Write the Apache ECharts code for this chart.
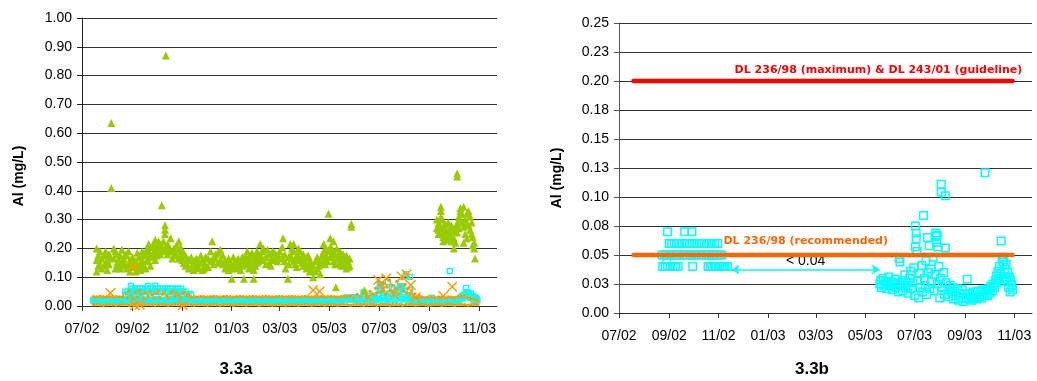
<!DOCTYPE html>
<html>
<head>
<meta charset="UTF-8">
<title>Al 3.3a / 3.3b</title>
<script src="https://cdn.jsdelivr.net/npm/echarts@6/dist/echarts.min.js"></script>
</head>
<body style="margin:0;background:#fff">
<div id="main" style="width:1037px;height:381px"></div>
<script>
// x values are days counted from 1 July 2002
var START = Date.UTC(2002, 6, 1);
var DAY = 86400000;

var tickMonths = ['2002-07', '2002-09', '2002-11', '2003-01', '2003-03', '2003-05', '2003-07', '2003-09', '2003-11'];
var yLabelsB = ['0.00', '0.03', '0.05', '0.08', '0.10', '0.13', '0.15', '0.18', '0.20', '0.23', '0.25'];

// green triangles (3.3a)
var greenAl = [
  [18,.20],[18,.16],[18,.12],[20,.175],[20,.14],[22,.19],[22,.15],[24,.165],[24,.13],[27,.175],[27,.14],
  [29,.19],[29,.15],[31,.16],[31,.125],[33,.145],[33,.18],[35,.17],[36,.635],[36,.41],[39,.20],[39,.165],
  [41,.13],[41,.19],[43,.18],[43,.15],[45,.16],[45,.14],[47,.175],[47,.13],[49,.195],[49,.145],[51,.165],
  [51,.15],[53,.14],[53,.18],[55,.175],[55,.13],[57,.19],[57,.145],[59,.16],[59,.12],[62,.17],[62,.135],
  [64,.15],[66,.155],[66,.12],[68,.185],[68,.145],[70,.17],[70,.135],[72,.15],[72,.125],[74,.19],[74,.16],
  [76,.18],[76,.14],[78,.175],[78,.13],[80,.16],[80,.20],[82,.215],[82,.19],[82,.155],[84,.18],[84,.14],
  [86,.205],[86,.17],[88,.215],[88,.185],[90,.23],[90,.195],[90,.16],[92,.21],[92,.175],[94,.225],[94,.195],
  [96,.215],[96,.18],[98,.35],[98,.205],[98,.19],[100,.225],[100,.195],[102,.28],[102,.265],[102,.25],[102,.20],
  [103,.87],[105,.215],[105,.18],[107,.205],[107,.19],[109,.235],[111,.19],[111,.165],[113,.20],[113,.175],
  [116,.21],[116,.18],[119,.225],[119,.195],[119,.165],[121,.205],[121,.17],[123,.19],[123,.16],[125,.185],
  [125,.15],[127,.175],[127,.14],[129,.165],[129,.145],[131,.16],[131,.13],[134,.17],[134,.135],[137,.155],
  [137,.125],[139,.145],[139,.16],[141,.165],[141,.135],[144,.15],[144,.13],[146,.175],[148,.16],[148,.125],
  [150,.15],[150,.13],[152,.17],[152,.14],[155,.165],[155,.135],[158,.19],[158,.155],[160,.225],[162,.17],
  [162,.145],[164,.18],[164,.165],[167,.185],[167,.15],[170,.195],[170,.16],[173,.175],[173,.145],[176,.16],
  [176,.13],[178,.15],[178,.135],[180,.165],[180,.125],[182,.155],[182,.13],[184,.095],[184,.14],[186,.17],
  [186,.145],[189,.155],[189,.13],[192,.165],[192,.14],[195,.15],[195,.125],[197,.14],[197,.17],[199,.16],
  [199,.095],[201,.175],[201,.145],[203,.19],[203,.155],[205,.165],[205,.13],[207,.175],[207,.14],[209,.185],
  [209,.15],[211,.16],[211,.125],[211,.095],[213,.17],[213,.14],[215,.19],[215,.15],[217,.18],[217,.155],
  [219,.215],[219,.175],[221,.19],[221,.165],[223,.20],[223,.16],[226,.17],[226,.145],[228,.195],[230,.18],
  [230,.15],[232,.16],[232,.14],[234,.19],[234,.165],[237,.185],[237,.16],[240,.175],[240,.155],[243,.19],
  [243,.165],[246,.205],[246,.17],[247,.235],[249,.18],[249,.155],[250,.13],[253,.095],[254,.17],[254,.145],
  [256,.215],[256,.175],[258,.20],[258,.165],[260,.215],[260,.19],[260,.155],[262,.165],[262,.145],[264,.175],
  [264,.135],[266,.20],[266,.175],[268,.19],[268,.16],[270,.165],[270,.15],[272,.18],[272,.14],[274,.155],
  [274,.14],[276,.17],[276,.13],[278,.175],[278,.14],[280,.155],[280,.12],[282,.15],[282,.125],[284,.14],
  [284,.10],[287,.155],[287,.12],[289,.17],[289,.13],[291,.16],[291,.14],[293,.15],[293,.11],[295,.175],
  [295,.15],[297,.215],[297,.19],[297,.16],[299,.18],[299,.145],[300,.20],[300,.17],[302,.19],[302,.155],
  [303,.32],[305,.235],[305,.205],[305,.17],[307,.20],[307,.18],[309,.225],[309,.19],[309,.155],[311,.18],
  [311,.145],[312,.065],[313,.20],[313,.165],[315,.175],[315,.145],[317,.19],[317,.155],[319,.17],[319,.14],
  [321,.18],[321,.15],[323,.165],[323,.145],[325,.175],[325,.13],[327,.155],[327,.135],[329,.165],[329,.14],
  [331,.285],[331,.275],[347,.055],
  [436,.27],[436,.30],[438,.287],[438,.265],[438,.25],[440,.25],[440,.28],[441,.345],[441,.33],[441,.31],
  [443,.30],[443,.26],[444,.275],[444,.24],[444,.225],[446,.25],[446,.285],[448,.26],[448,.23],[450,.24],
  [450,.29],[452,.27],[452,.25],[454,.28],[454,.225],[455,.26],[457,.235],[457,.20],[459,.27],[459,.22],
  [461,.46],[461,.45],[461,.287],[461,.255],[463,.31],[463,.27],[465,.34],[465,.33],[465,.30],[467,.32],
  [467,.29],[469,.345],[469,.275],[469,.22],[471,.30],[471,.25],[473,.32],[473,.285],[473,.235],[475,.33],
  [475,.28],[477,.31],[477,.265],[479,.29],[479,.25],[480,.24],[480,.21],[482,.22],[482,.20],[483,.165]
];

// orange crosses (3.3a)
var orangeX = [
  [35,.045],[63,.135],[65,.003],[71,.004],[124,.003],[284,.055],[292,.05],[352,.03],[364,.09],[370,.06],
  [374,.096],[383,.04],[393,.102],[399,.11],[404,.073],[410,.03],[444,.035],[455,.067]
];

// orange dots (3.3a)
var orangeDots = [
  [14,.032],[18,.031],[22,.033],[26,.032],[30,.031],[34,.032],[38,.033],[42,.032],[46,.031],[50,.032],
  [54,.045],[56,.028],[58,.052],[61,.036],[63,.024],[66,.048],[68,.031],[71,.055],[73,.040],[76,.027],
  [78,.046],[81,.034],[84,.050],[86,.038],[89,.026],[91,.044],[94,.053],[96,.030],[99,.041],[101,.048],
  [104,.035],[106,.025],[109,.043],[111,.051],[114,.033],[116,.046],[119,.038],[121,.028],[124,.044],[126,.049],
  [129,.034],[131,.040],[134,.030],
  [138,.032],[142,.031],[146,.033],[150,.032],[154,.031],[158,.032],[162,.033],[166,.032],[170,.031],[174,.032],
  [178,.033],[182,.032],[186,.031],[190,.032],[194,.033],[198,.032],[202,.031],[206,.032],[210,.033],[214,.032],
  [218,.031],[222,.032],[226,.033],[230,.032],[234,.031],[238,.032],[242,.033],[246,.032],[250,.031],[254,.032],
  [258,.033],[262,.032],[266,.031],[270,.032],[274,.033],[278,.032],[282,.031],[286,.032],[290,.033],[294,.032],
  [298,.031],[302,.032],[306,.033],[310,.032],[314,.031],[318,.032],[322,.033],[326,.032],
  [330,.035],[334,.028],[338,.040],[342,.031],[346,.045],[350,.033],[354,.050],[358,.038],[361,.062],[363,.045],
  [365,.085],[367,.070],[369,.052],[371,.078],[373,.040],[375,.066],[377,.090],[379,.055],[381,.072],[383,.048],
  [385,.060],[387,.085],[389,.042],[391,.068],[393,.095],[395,.052],[397,.075],[399,.045],[401,.062],[403,.038],
  [405,.055],[407,.030],[409,.042],[412,.028],[415,.035],
  [418,.030],[422,.029],[426,.031],[430,.030],[434,.029],[438,.031],[442,.030],[446,.029],[450,.031],[454,.030],
  [458,.029],[462,.031],[466,.034],[470,.036],[474,.030],[478,.026],[482,.022],[486,.020],
  [14,.004],[18,.005],[22,.004],[26,.003],[30,.004],[34,.005],[38,.004],[42,.003],[46,.004],[50,.005],
  [54,.004],[58,.003],[62,.004],[66,.005],[70,.004],[74,.003],[78,.004],[82,.005],[86,.004],[90,.003],
  [94,.004],[98,.005],[102,.004],[106,.003],[110,.004],[114,.005],[118,.004],[122,.003],[126,.004],[130,.005],
  [134,.004],[138,.003],[142,.004],[146,.005],[150,.004],[154,.003],[158,.004],[162,.005],[166,.004],[170,.003],
  [174,.004],[178,.005],[182,.004],[186,.003],[190,.004],[194,.005],[198,.004],[202,.003],[206,.004],[210,.005],
  [214,.004],[218,.003],[222,.004],[226,.005],[230,.004],[234,.003],[238,.004],[242,.005],[246,.004],[250,.003],
  [254,.004],[258,.005],[262,.004],[266,.003],[270,.004],[274,.005],[278,.004],[282,.003],[286,.004],[290,.005],
  [294,.004],[298,.003],[302,.004],[306,.005],[310,.004],[314,.003],[318,.004],[322,.005],[326,.004],[330,.003],
  [334,.004],[338,.005],[342,.004],[346,.003],[350,.004],[354,.005],[358,.004],[362,.003],[366,.004],[370,.005],
  [374,.004],[378,.003],[382,.004],[386,.005],[390,.004],[394,.003],[398,.004],[402,.005],[406,.004],[410,.003],
  [414,.004],[418,.005],[422,.004],[426,.003],[430,.004],[434,.005],[438,.004],[442,.003],[446,.004],[450,.005],
  [454,.004],[458,.003],[462,.004],[466,.005],[470,.004],[474,.003],[478,.004],[482,.005],[486,.004]
];

// cyan readings below detection limit (3.3a only)
var cyanLow = [
  [14,.02],[18,.02],[22,.019],[26,.02],[30,.021],[34,.02],[38,.02],[42,.019],[46,.02],[50,.021],
  [54,.02],[58,.02],[62,.019],[66,.02],[70,.021],[74,.02],[78,.02],[82,.019],[86,.02],[90,.021],
  [94,.02],[98,.02],[102,.019],[106,.02],[110,.021],[114,.02],[118,.02],[122,.019],[126,.02],[130,.021],
  [134,.02],[138,.02],[142,.019],[146,.02],[150,.021],[154,.02],[158,.02],[162,.019],[166,.02],[170,.021],
  [174,.02],[178,.02],[182,.019],[186,.02],[190,.021],[194,.02],[198,.02],[202,.019],[206,.02],[210,.021],
  [214,.02],[218,.02],[222,.019],[226,.02],[230,.021],[234,.02],[238,.02],[242,.019],[246,.02],[250,.021],
  [254,.02],[258,.02],[262,.019],[266,.02],[270,.021],[274,.02],[278,.02],[282,.019],[286,.02],[290,.021],
  [294,.02],[298,.02],[302,.019],[306,.02],[310,.021],[314,.02],[318,.02]
];

// cyan readings above detection limit (both charts)
var cyan2002 = [
  [53,.05],[54,.04],[56,.05],[57,.04],[59,.05],[59,.046],[60,.04],[60,.07],[62,.06],[62,.05],
  [63,.04],[65,.05],[65,.06],[67,.04],[68,.05],[68,.06],[70,.04],[71,.05],[71,.06],[73,.04],
  [74,.05],[74,.06],[78,.05],[78,.06],[81,.07],[81,.05],[81,.06],[84,.05],[84,.06],[87,.05],
  [87,.06],[90,.05],[90,.06],[90,.07],[91,.04],[93,.05],[93,.06],[96,.05],[96,.06],[99,.05],
  [99,.06],[102,.05],[102,.06],[105,.05],[105,.06],[108,.05],[108,.06],[110,.04],[111,.05],[111,.06],
  [113,.04],[115,.05],[115,.06],[115,.04],[118,.05],[118,.04],[118,.06],[120,.04],[121,.05],[122,.06],
  [124,.04],[124,.05],[127,.05],[127,.04],[129,.04],[131,.04],[134,.04]
];
var cyan2003 = [
  [322,.025],[323,.028],[324,.022],[326,.030],[327,.024],[329,.027],[330,.021],[332,.026],[333,.031],[335,.023],
  [336,.027],[338,.020],[339,.025],[341,.029],[342,.022],[344,.026],[345,.018],[346,.047],[347,.044],[348,.024],
  [350,.019],[351,.028],[353,.033],[354,.022],[356,.026],[357,.017],[359,.030],[360,.036],[361,.021],[363,.026],
  [364,.039],[365,.015],[366,.075],[366,.057],[367,.069],[367,.064],[368,.053],[369,.028],[370,.013],[371,.034],
  [372,.022],[374,.041],[375,.018],[376,.084],[377,.030],[378,.024],[379,.045],[380,.016],[381,.065],[382,.035],
  [383,.058],[384,.021],[385,.038],[386,.027],[388,.048],[389,.019],[390,.033],[391,.069],[392,.066],[392,.061],
  [393,.067],[393,.025],[394,.057],[395,.040],[396,.013],[397,.030],[398,.111],[398,.104],[399,.022],[401,.035],
  [402,.016],[403,.101],[403,.056],[404,.026],[406,.020],[407,.014],[409,.024],[410,.018],[412,.022],[413,.012],
  [415,.019],[416,.015],[418,.021],[419,.011],[421,.017],[422,.013],[424,.020],[425,.010],[427,.016],[428,.013],
  [430,.029],[431,.012],[433,.017],[434,.014],[436,.011],[437,.018],[439,.013],[440,.016],[442,.012],[443,.019],
  [445,.014],[446,.018],[448,.013],[449,.020],[451,.016],[452,.121],[453,.019],[455,.015],[456,.021],[458,.017],
  [459,.023],[461,.019],[462,.025],[464,.022],[465,.028],[466,.032],[467,.026],[468,.036],[469,.030],[470,.040],
  [471,.034],[472,.062],[473,.048],[474,.044],[475,.046],[476,.038],[477,.030],[478,.042],[479,.027],[480,.035],
  [481,.022],[482,.031],[483,.018],[484,.028],[485,.024],[486,.020]
];

// limits (3.3b)
var maxLimit = [[18, 0.20], [486, 0.20]];
var recLimit = [[18, 0.05], [486, 0.05]];
var belowDetection = [[139, 0.0375], [322, 0.0375]];

function monthDay(s) {
  var p = s.split('-');
  return (Date.UTC(+p[0], +p[1] - 1, 1) - START) / DAY;
}
var tickDays = tickMonths.map(monthDay);

function dateLabel(v) {
  var d = new Date(START + Math.round(v) * DAY);
  var m = d.getUTCMonth() + 1;
  var y = d.getUTCFullYear() % 100;
  return (m < 10 ? '0' : '') + m + '/' + (y < 10 ? '0' : '') + y;
}

var FONT = 'Liberation Sans, Arial, sans-serif';
var crossPath = 'path://M0,0L1,0L5,4L9,0L10,0L10,1L6,5L10,9L10,10L9,10L5,6L1,10L0,10L0,9L4,5L0,1Z';

function xAxisFor(grid) {
  return {
    type: 'value', gridIndex: grid, min: 0, max: 510,
    axisLine: { lineStyle: { color: '#333', width: 1 } },
    axisTick: { customValues: tickDays, length: 5, lineStyle: { color: '#333' } },
    axisLabel: { customValues: tickDays, formatter: dateLabel, margin: 16, color: '#000', fontSize: 14, fontFamily: FONT },
    splitLine: { show: false }
  };
}

var chart = echarts.init(document.getElementById('main'));

var hollowCyan = { color: 'rgba(0,0,0,0)', borderColor: '#00FFFF', borderWidth: 1.3, opacity: 1 };

var option = {
  backgroundColor: '#fff',
  animation: false,
  grid: [
    { left: 82, top: 18, width: 415, height: 288 },
    { left: 619, top: 23, width: 413, height: 290 }
  ],
  xAxis: [xAxisFor(0), xAxisFor(1)],
  yAxis: [
    {
      type: 'value', gridIndex: 0, min: 0, max: 1, interval: 0.1,
      axisLine: { show: true, lineStyle: { color: '#222' } },
      axisTick: { show: true, length: 5, lineStyle: { color: '#222' } },
      axisLabel: { formatter: function (v) { return v.toFixed(2); }, margin: 10, color: '#000', fontSize: 14, fontFamily: FONT },
      splitLine: { lineStyle: { color: '#333', width: 1 } }
    },
    {
      type: 'value', gridIndex: 1, min: 0, max: 0.25, interval: 0.025,
      axisLine: { show: true, lineStyle: { color: '#555' } },
      axisTick: { show: true, length: 5, lineStyle: { color: '#555' } },
      axisLabel: { formatter: function (v) { return yLabelsB[Math.round(v / 0.025)]; }, margin: 10, color: '#000', fontSize: 14, fontFamily: FONT },
      splitLine: { lineStyle: { color: '#333', width: 1 } }
    }
  ],
  series: [
    { type: 'scatter', xAxisIndex: 0, yAxisIndex: 0, data: cyanLow, symbol: 'rect', symbolSize: 6,
      itemStyle: { color: '#00FFFF', borderColor: '#00FFFF', borderWidth: 1, opacity: 1 } },
    { type: 'scatter', xAxisIndex: 0, yAxisIndex: 0, data: cyan2002.concat(cyan2003), symbol: 'rect', symbolSize: 5,
      itemStyle: hollowCyan },
    { type: 'scatter', xAxisIndex: 0, yAxisIndex: 0, data: orangeDots, symbol: 'circle', symbolSize: 3.5,
      itemStyle: { color: '#FF9900', opacity: 1 } },
    { type: 'scatter', xAxisIndex: 0, yAxisIndex: 0, data: greenAl, symbol: 'triangle', symbolSize: 8,
      itemStyle: { color: '#99CC00', opacity: 1 } },
    { type: 'scatter', xAxisIndex: 0, yAxisIndex: 0, data: orangeX, symbol: crossPath, symbolSize: 10,
      itemStyle: { color: '#FF9900', opacity: 1 } },

    { type: 'line', xAxisIndex: 1, yAxisIndex: 1, data: maxLimit, showSymbol: false, silent: true,
      lineStyle: { color: '#FF0000', width: 4.5, cap: 'round' } },
    { type: 'line', xAxisIndex: 1, yAxisIndex: 1, data: recLimit, showSymbol: false, silent: true,
      lineStyle: { color: '#FF6600', width: 4.5, cap: 'round' } },
    { type: 'scatter', xAxisIndex: 1, yAxisIndex: 1, data: cyan2002.concat(cyan2003), symbol: 'rect', symbolSize: 7.5,
      itemStyle: { color: 'rgba(0,0,0,0)', borderColor: '#00FFFF', borderWidth: 1.5, opacity: 1 } },
    { type: 'lines', coordinateSystem: 'cartesian2d', xAxisIndex: 1, yAxisIndex: 1,
      symbol: ['arrow', 'arrow'], symbolSize: 8,
      lineStyle: { color: '#00FFFF', width: 1.5, opacity: 1 },
      label: { show: true, position: 'middle', formatter: '< 0.04', color: '#000', fontSize: 14, fontFamily: FONT, distance: 1 },
      data: [{ coords: belowDetection }] }
  ]
};
chart.setOption(option);

// text: captions, axis names, limit labels
var redAt = chart.convertToPixel({ gridIndex: 1 }, [498, 0.2045]);
var orangeAt = chart.convertToPixel({ gridIndex: 1 }, [129, 0.0575]);
chart.setOption({
  graphic: [
    { type: 'text', x: 19, y: 176, rotation: Math.PI / 2,
      style: { text: 'Al (mg/L)', font: 'bold 14px ' + FONT, fill: '#000', textAlign: 'center', textVerticalAlign: 'middle' } },
    { type: 'text', x: 557, y: 178, rotation: Math.PI / 2,
      style: { text: 'Al (mg/L)', font: 'bold 14px ' + FONT, fill: '#000', textAlign: 'center', textVerticalAlign: 'middle' } },
    { type: 'text', x: 236, y: 369,
      style: { text: '3.3a', font: 'bold 17px ' + FONT, fill: '#000', textAlign: 'center', textVerticalAlign: 'middle' } },
    { type: 'text', x: 812, y: 369,
      style: { text: '3.3b', font: 'bold 17px ' + FONT, fill: '#000', textAlign: 'center', textVerticalAlign: 'middle' } },
    { type: 'text', x: redAt[0], y: redAt[1],
      style: { text: 'DL 236/98 (maximum) & DL 243/01 (guideline)', font: 'bold 11px DejaVu Sans', fill: '#FF0000', textAlign: 'right', textVerticalAlign: 'bottom' } },
    { type: 'text', x: orangeAt[0], y: orangeAt[1],
      style: { text: 'DL 236/98 (recommended)', font: 'bold 11px DejaVu Sans', fill: '#FF6600', textAlign: 'left', textVerticalAlign: 'bottom' } }
  ]
});
</script>
</body>
</html>
